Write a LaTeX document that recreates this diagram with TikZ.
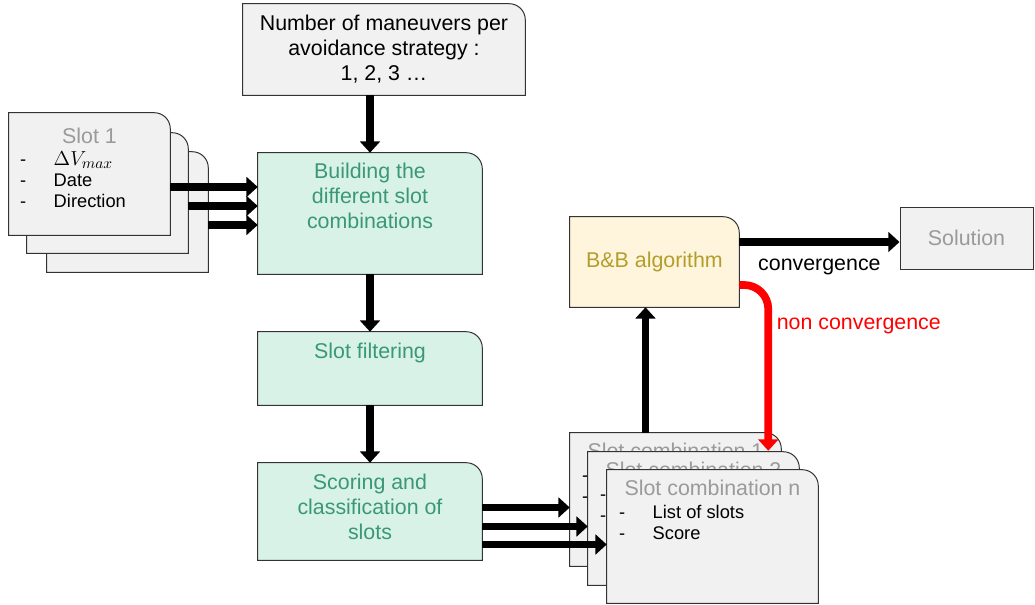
\documentclass[tikz,border=0pt]{standalone}
\usepackage{fontspec}
\setmainfont{Liberation Sans}
\usepackage{tikz}
\usetikzlibrary{arrows.meta,positioning,calc,fit}

\definecolor{mint}{HTML}{D8F2E8}
\definecolor{mintText}{HTML}{3A9874}
\definecolor{cream}{HTML}{FFF5DC}
\definecolor{olive}{HTML}{B39E2C}
\definecolor{paper}{HTML}{F1F1F1}
\definecolor{greyText}{HTML}{9A9A9A}
\definecolor{rim}{HTML}{333333}

\begin{document}
\begin{tikzpicture}[x=0.025cm, y=-0.025cm,
  card/.style={inner sep=0pt, append after command={\pgfextra{
      \draw[rim, line width=0.7pt, fill=#1] (\tikzlastnode.south west) -- (\tikzlastnode.north west)
        -- ([xshift=-0.4cm]\tikzlastnode.north east) arc[start angle=90, end angle=0, radius=0.4cm]
        -- (\tikzlastnode.south east) -- cycle;}}},
  plain/.style={draw=rim, line width=0.7pt, fill=#1, inner sep=0pt},
  big/.style={font=\fontsize{15.2}{17.7}\selectfont, align=center},
  small/.style={font=\fontsize{13}{15}\selectfont, inner sep=0pt},
  flow/.style={-{Triangle[length=8pt,width=14pt]}, line width=5.5pt},
  loopback/.style={flow, red, rounded corners=0.6cm}
]
\useasboundingbox (0,0) rectangle (1035,605);

% input: maneuvers
\node[card=paper, fit={(243,4) (525,95)}] (strat) {};
\node[big] (strat-txt) at (strat) {Number of maneuvers per\\avoidance strategy :\\1, 2, 3 …};

% input: slots
\node[card=paper, fit={(47,152) (208,272)}] (slotc) {};
\node[card=paper, fit={(27,133) (188,253)}] (slotb) {};
\node[card=paper, fit={(9,113) (170,235)}] (slota) {};
\node[big, greyText] (slota-title) at ($(slota.north)+(0,23)$) {Slot 1};
\node[small, anchor=north west] (slota-list) at ($(slota.north west)+(11,38)$)
  {\begin{tabular}{@{}p{24pt}@{}l@{}} - & {\fontsize{15.5}{15}\selectfont$\Delta V_{max}$}\\ - & Date\\ - & Direction\end{tabular}};

% process
\node[card=mint, fit={(258,153) (482,274)}] (build) {};
\node[big, mintText, anchor=north, inner sep=0pt] (build-txt) at ($(build.north)+(0,10)$) {Building the\\different slot\\combinations};
\node[card=mint, fit={(258,332) (482,405)}] (filter) {};
\node[big, mintText, anchor=north, inner sep=0pt] (filter-txt) at ($(filter.north)+(0,11)$) {Slot filtering};
\node[card=mint, fit={(258,463) (482,560)}] (score) {};
\node[big, mintText, anchor=north, inner sep=0pt] (score-txt) at ($(score.north)+(0,11)$) {Scoring and\\classification of\\slots};

% solver
\node[card=cream, fit={(570,217) (739,307)}] (bb) {};
\node[big, olive] (bb-txt) at (bb) {B\&B algorithm};
\node[plain=paper, fit={(900,207) (1033,269)}] (sol) {};
\node[big, greyText] (sol-txt) at (sol) {Solution};

% slot combinations
\foreach \nm/\xa/\ya/\k in {c1/570/433/1, c2/588/452/2, cn/607/470/n}{
  \node[card=paper, fit={(\xa,\ya) (\xa+211,\ya+133)}] (\nm) {};
  \node[big, greyText] (\nm-title) at ($(\nm.north)+(0,18)$) {Slot combination \k};
  \node[small, anchor=north west] (\nm-list) at ($(\nm.north west)+(12,34)$)
    {\begin{tabular}{@{}p{24pt}@{}l@{}} - & List of slots\\ - & Score\end{tabular}};
}

% connectors
\draw[flow] (build.north |- strat.south) -- (build.north);
\draw[flow] (build.south) -- (filter.north);
\draw[flow] (filter.south) -- (score.north);
\foreach \nm in {slota,slotb,slotc}{
  \coordinate (\nm-out) at ($(\nm.east)+(0,13)$);
  \draw[flow] (\nm-out) -- (\nm-out -| build.west);
}
\foreach \nm in {c1,c2,cn}{
  \coordinate (\nm-in) at ($(\nm.west)+(0,8)$);
  \draw[flow] (\nm-in -| score.east) -- (\nm-in);
}
\coordinate (bb-in) at ($(bb.south)+(-9,0)$);
\draw[flow] (c1.north -| bb-in) -- (bb-in);
\coordinate (bb-out) at ($(bb.east)+(0,-20)$);
\draw[flow] (bb-out) -- (bb-out -| sol.west)
  node[midway, below=6pt, big] (conv-lbl) {convergence};
\coordinate (bb-fail) at ($(bb.east)+(0,23)$);
\coordinate (c1-back) at ($(c1.north east)+(-13,18)$);
\draw[loopback] (bb-fail) -| (c1-back)
  node[pos=0.625, right=0pt, big] (fail-lbl) {non convergence};
\end{tikzpicture}
\end{document}
